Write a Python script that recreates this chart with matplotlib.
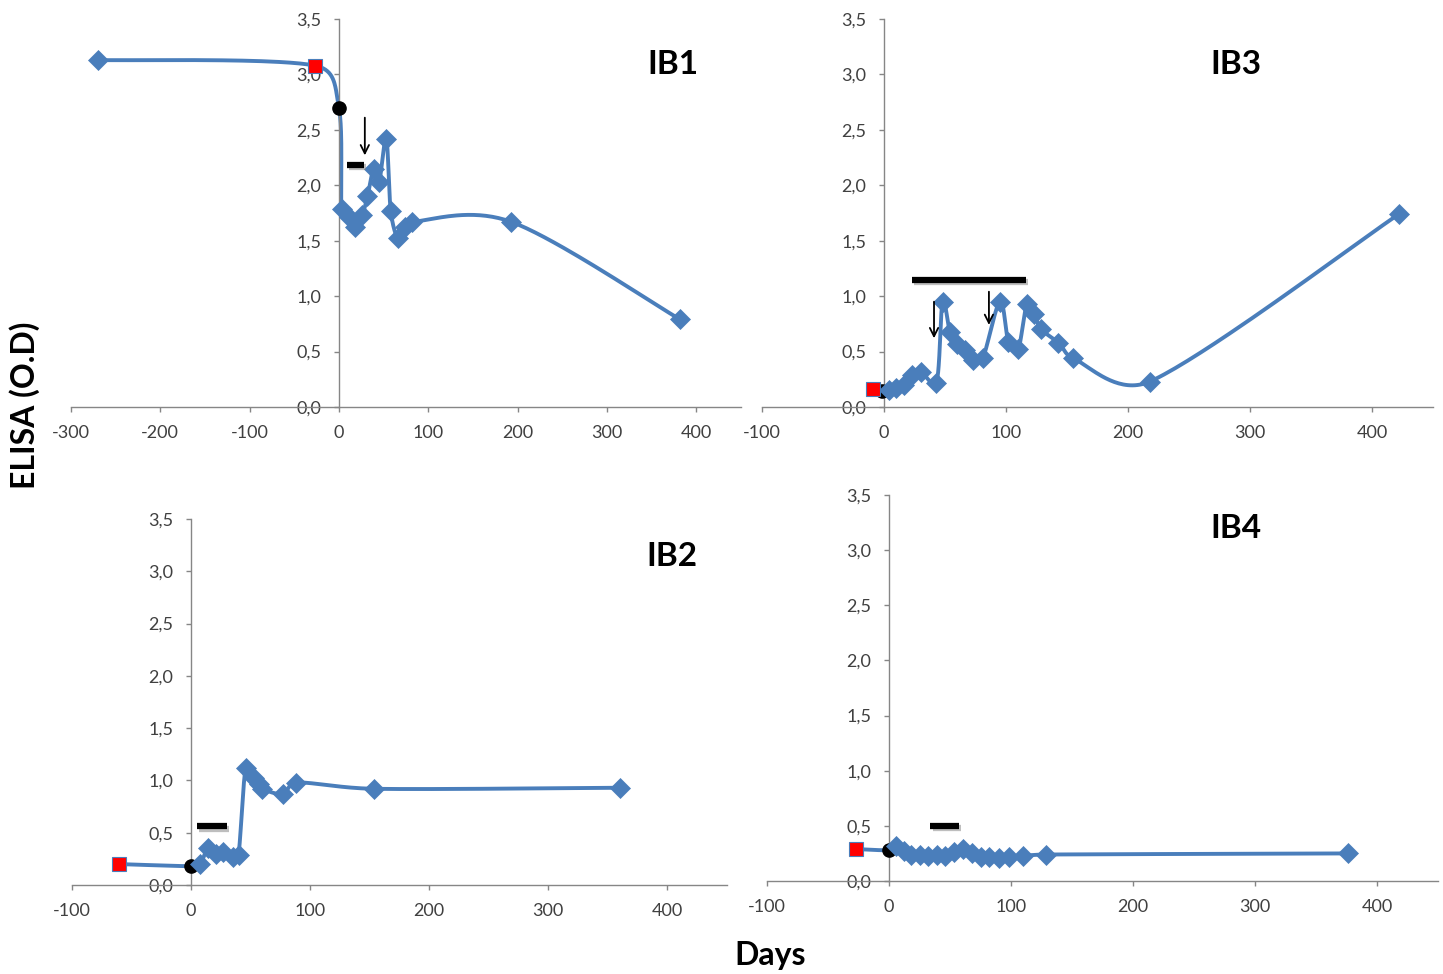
import numpy as np
import matplotlib
matplotlib.use("Agg")
import matplotlib.pyplot as plt
import matplotlib.patheffects as pe

plt.rcParams['font.family'] = ['Lato', 'DejaVu Sans']

# ---------------- data ----------------
# IB1
ib1_pre_days = [-270]
ib1_pre_od = [3.13]
ib1_square = ([-27], [3.08])
ib1_circle = ([0], [2.70])
ib1_days = [3, 11, 18, 26, 32, 39, 45, 53, 58, 66, 74, 82, 193, 382]
ib1_od = [1.79, 1.71, 1.62, 1.73, 1.90, 2.15, 2.03, 2.42, 1.77, 1.52, 1.62, 1.67, 1.67, 0.79]
ib1_bar = (9, 28, 2.18)
ib1_arrows = [(29, 2.61, 2.27)]

# IB3
ib3_pre_days = []
ib3_pre_od = []
ib3_square = ([-9], [0.16])
ib3_circle = ([-2], [0.14])
ib3_days = [4, 10, 16, 23, 30, 43, 48, 54, 60, 66, 73, 81, 95, 102, 110, 117, 123, 129, 143, 155, 218, 422]
ib3_od = [0.15, 0.17, 0.20, 0.29, 0.32, 0.22, 0.95, 0.68, 0.57, 0.51, 0.42, 0.44, 0.95, 0.59, 0.52, 0.93,
          0.84, 0.70, 0.58, 0.44, 0.23, 1.74]
ib3_bar = (23, 116, 1.145)
ib3_arrows = [(41, 0.95, 0.62), (86, 1.04, 0.74)]

# IB2
ib2_pre_days = []
ib2_pre_od = []
ib2_square = ([-60], [0.20])
ib2_circle = ([0], [0.18])
ib2_days = [8, 14, 21, 27, 35, 40, 46, 53, 57, 60, 77, 88, 154, 360]
ib2_od = [0.20, 0.35, 0.30, 0.32, 0.27, 0.29, 1.12, 1.02, 0.97, 0.92, 0.87, 0.98, 0.92, 0.93]
ib2_bar = (5, 30, 0.56)
ib2_arrows = []

# IB4
ib4_pre_days = []
ib4_pre_od = []
ib4_square = ([-27], [0.29])
ib4_circle = ([0], [0.28])
ib4_days = [6, 12, 18, 25, 32, 39, 46, 53, 61, 68, 75, 82, 90, 98, 110, 129, 376]
ib4_od = [0.32, 0.27, 0.24, 0.24, 0.23, 0.24, 0.23, 0.26, 0.29, 0.25, 0.22, 0.22, 0.21, 0.22, 0.23, 0.24, 0.25]
ib4_bar = (34, 57, 0.50)
ib4_arrows = []

y_ticks = [0, 0.5, 1.0, 1.5, 2.0, 2.5, 3.0, 3.5]

# ---------------- style ----------------
W, H = 1443, 974
LINE_C = '#4A7EBB'
AX_C = '#868686'
TXT_C = '#404040'

fig = plt.figure(figsize=(W / 100, H / 100), dpi=100)
fig.patch.set_facecolor('white')


def px_axes(x0, x1, ytop, ybot):
    return fig.add_axes([x0 / W, 1 - ybot / H, (x1 - x0) / W, (ybot - ytop) / H])


def _arm(v, seg_len, frac=0.45):
    # control arm (Catmull-Rom, 1/6 of chord), capped relative to the segment length
    L = np.hypot(*v)
    cap = frac * seg_len
    if L > cap and L > 0:
        v = v * cap / L
    return v


def excel_smooth(ax, xs, ys, n=40):
    pts = ax.transData.transform(np.column_stack([xs, ys]))
    P = np.vstack([pts[0], pts, pts[-1]])
    segs = []
    t = np.linspace(0, 1, n)[:, None]
    for i in range(1, len(P) - 2):
        p0, p1, p2, p3 = P[i - 1], P[i], P[i + 1], P[i + 2]
        seg_len = np.hypot(*(p2 - p1))
        c1 = p1 + _arm((p2 - p0) / 6.0, seg_len)
        c2 = p2 - _arm((p3 - p1) / 6.0, seg_len)
        seg = (1 - t) ** 3 * p1 + 3 * (1 - t) ** 2 * t * c1 + 3 * (1 - t) * t ** 2 * c2 + t ** 3 * p2
        segs.append(seg)
    curve = np.vstack(segs)
    return ax.transData.inverted().transform(curve)


def panel(rect, xlim, xticks, pre_d, pre_o, square, circle, days, od, bar, arrows, title, title_pos):
    ax = px_axes(*rect)
    ax.set_xlim(*xlim)
    ax.set_ylim(0, 3.5)
    ax.set_facecolor('none')
    for s in ['top', 'right']:
        ax.spines[s].set_visible(False)
    ax.spines['left'].set_position(('data', 0))
    ax.spines['bottom'].set_position(('data', 0))
    for s in ['left', 'bottom']:
        ax.spines[s].set_color(AX_C)
        ax.spines[s].set_linewidth(1.0)
    ax.set_xticks(xticks)
    ax.set_xticklabels([str(v) for v in xticks])
    ax.set_yticks(y_ticks)
    ax.set_yticklabels([('%.1f' % v).replace('.', ',') for v in y_ticks])
    ax.tick_params(axis='both', colors=AX_C, labelcolor=TXT_C, direction='out',
                   length=3.6, width=1.0, labelsize=13)
    ax.tick_params(axis='y', pad=9)
    ax.tick_params(axis='x', pad=9.5)

    all_d = list(pre_d) + list(square[0]) + list(circle[0]) + list(days)
    all_o = list(pre_o) + list(square[1]) + list(circle[1]) + list(od)
    curve = excel_smooth(ax, all_d, all_o)
    ax.plot(curve[:, 0], curve[:, 1], color=LINE_C, lw=2.8, zorder=2, clip_on=False,
            solid_joinstyle='round')
    ax.plot(circle[0], circle[1], 'o', color='black', ms=9.5, zorder=3, clip_on=False)
    ax.plot(list(pre_d) + list(days), list(pre_o) + list(od), 'D', color=LINE_C, ms=10.5,
            mec=LINE_C, mew=0.5, zorder=4, clip_on=False, linestyle='none')
    ax.plot(square[0], square[1], 's', color='#FF0000', ms=10, mec=LINE_C, mew=0.8,
            zorder=5, clip_on=False)

    b0, b1, by = bar
    ax.plot([b0, b1], [by, by], color='black', lw=4.5, solid_capstyle='butt', zorder=6,
            path_effects=[pe.SimpleLineShadow(offset=(1.5, -1.5), shadow_color='#7f7f7f', alpha=0.5),
                          pe.Normal()])
    for ax_x, ytop, ybot in arrows:
        ax.annotate('', xy=(ax_x, ybot), xytext=(ax_x, ytop),
                    arrowprops=dict(arrowstyle='->,head_length=0.6,head_width=0.3', lw=1.3,
                                    color='black', shrinkA=0, shrinkB=0), zorder=6)
    fig.text(title_pos[0] / W, 1 - title_pos[1] / H, title, ha='center', va='center',
             fontsize=24, fontweight='bold', color='black')
    return ax


panel((71, 740.8, 19, 407), (-300, 450), [-300, -200, -100, 0, 100, 200, 300, 400],
      ib1_pre_days, ib1_pre_od, ib1_square, ib1_circle, ib1_days, ib1_od, ib1_bar, ib1_arrows,
      'IB1', (673, 65))
panel((762, 1433, 19, 407), (-100, 450), [-100, 0, 100, 200, 300, 400],
      ib3_pre_days, ib3_pre_od, ib3_square, ib3_circle, ib3_days, ib3_od, ib3_bar, ib3_arrows,
      'IB3', (1236, 65))
panel((71.7, 727, 519, 885), (-100, 450), [-100, 0, 100, 200, 300, 400],
      ib2_pre_days, ib2_pre_od, ib2_square, ib2_circle, ib2_days, ib2_od, ib2_bar, ib2_arrows,
      'IB2', (672, 557))
panel((767, 1438, 495, 881), (-100, 450), [-100, 0, 100, 200, 300, 400],
      ib4_pre_days, ib4_pre_od, ib4_square, ib4_circle, ib4_days, ib4_od, ib4_bar, ib4_arrows,
      'IB4', (1236, 529))

fig.text(25 / W, 1 - 405 / H, 'ELISA (O.D)', rotation=90, ha='center', va='center',
         fontsize=23, fontweight='bold', color='black')
fig.text(770 / W, 1 - 956 / H, 'Days', ha='center', va='center',
         fontsize=23, fontweight='bold', color='black')

fig.savefig('out.png', dpi=100, facecolor='white')
